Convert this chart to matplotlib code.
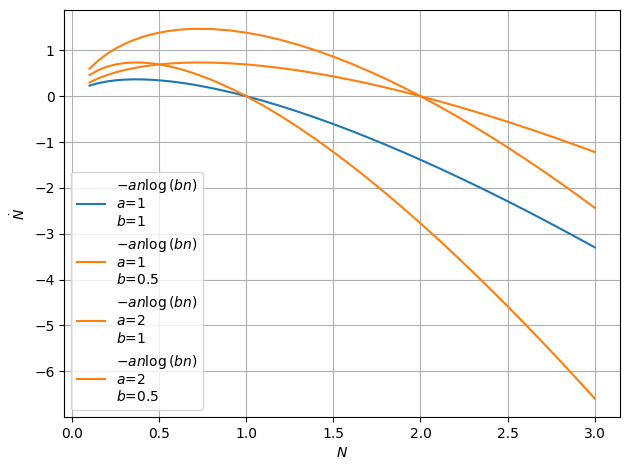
import matplotlib
matplotlib.use('Agg')
import matplotlib.pyplot as plt

# N values and Ndot
N = [0.1, 0.15, 0.2, 0.25, 0.3, 0.35, 0.4, 0.45, 0.5, 0.55, 0.6, 0.65, 0.7, 0.8, 0.9, 1.0,
     1.1, 1.2, 1.3, 1.4, 1.5, 1.6, 1.7, 1.8, 1.9, 2.0,
     2.1, 2.2, 2.3, 2.4, 2.5, 2.6, 2.7, 2.8, 2.9, 3.0]

a1_b1 = [0.2303, 0.2846, 0.3219, 0.3466, 0.3612, 0.3674, 0.3665, 0.3593, 0.3466, 0.3288,
         0.3065, 0.2800, 0.2497, 0.1785, 0.0948, 0.0,
         -0.1048, -0.2188, -0.3411, -0.4711, -0.6082, -0.7520, -0.9021, -1.0580, -1.2195, -1.3863,
         -1.5581, -1.7346, -1.9157, -2.1011, -2.2907, -2.4843, -2.6818, -2.8829, -3.0877, -3.2958]

a1_b05 = [0.2996, 0.3885, 0.4605, 0.5199, 0.5691, 0.6100, 0.6438, 0.6712, 0.6931, 0.7100,
          0.7219, 0.7306, 0.7349, 0.7330, 0.7187, 0.6931,
          0.6576, 0.6130, 0.5600, 0.4993, 0.4315, 0.3571, 0.2763, 0.1896, 0.0975, 0.0,
          -0.1025, -0.2097, -0.3215, -0.4376, -0.5579, -0.6821, -0.8103, -0.9421, -1.0775, -1.2164]

a2_b1 = [0.4606, 0.5692, 0.6438, 0.6932, 0.7224, 0.7348, 0.7330, 0.7186, 0.6931, 0.6576,
         0.6130, 0.5600, 0.4994, 0.3570, 0.1896, 0.0,
         -0.2096, -0.4376, -0.6822, -0.9422, -1.2164, -1.5040, -1.8042, -2.1160, -2.4390, -2.7726,
         -3.1162, -3.4692, -3.8314, -4.2022, -4.5814, -4.9686, -5.3636, -5.7658, -6.1754, -6.5916]

a2_b05 = [0.5992, 0.7770, 0.9210, 1.0398, 1.1382, 1.2200, 1.2876, 1.3424, 1.3862, 1.4200,
          1.4438, 1.4612, 1.4698, 1.4660, 1.4374, 1.3862,
          1.3152, 1.2260, 1.1200, 0.9986, 0.8630, 0.7142, 0.5526, 0.3792, 0.1950, 0.0,
          -0.2050, -0.4194, -0.6430, -0.8752, -1.1158, -1.3642, -1.6206, -1.8842, -2.1550, -2.4328]

series = [a1_b1, a1_b05, a2_b1, a2_b05]
a_vals = ['1', '1', '2', '2']
b_vals = ['1', '0.5', '1', '0.5']
colors = ['C0', 'C1', 'C1', 'C1']

fig, ax = plt.subplots(figsize=(6.3, 4.7), dpi=100)

for y, a, b, c in zip(series, a_vals, b_vals, colors):
    lab = r'$-an\log{(bn)}$' + '\n' + r'$a$=' + a + '\n' + r'$b$=' + b
    ax.plot(N, y, color=c, label=lab)

ax.set_xlabel(r'$N$')
ax.set_ylabel(r'$\dot{N}$')
ax.grid(True)
ax.legend(loc='lower left')
fig.subplots_adjust(left=0.102, right=0.984, top=0.978, bottom=0.113)
fig.savefig('out.png')
